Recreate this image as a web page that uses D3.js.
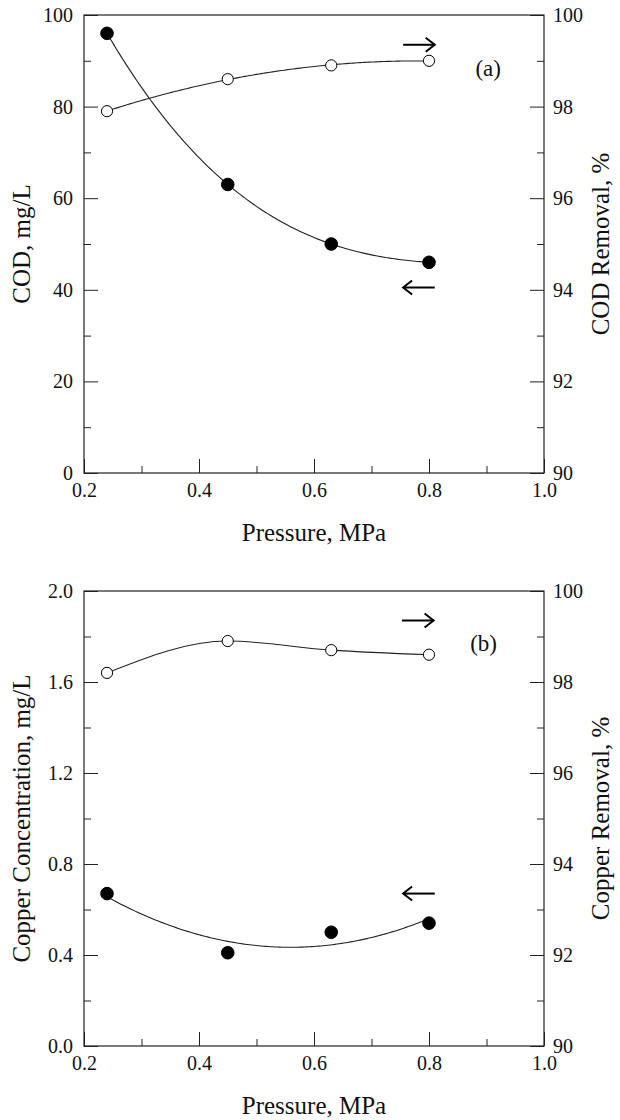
<!DOCTYPE html>
<html>
<head>
<meta charset="utf-8">
<script src="https://cdn.jsdelivr.net/npm/d3@7"></script>
<style>
  body { margin: 0; background: #fff; }
  svg text { font-family: "Liberation Serif", "Times New Roman", serif; fill: #111; }
</style>
</head>
<body>
<div id="chart"></div>
<script>
////////////////////////////////////////
// data
////////////////////////////////////////

var pressure = [0.24, 0.45, 0.63, 0.80];          // MPa
var codConc = [96, 63, 50, 46];                   // mg/L, filled circles
var codRemoval = [97.9, 98.6, 98.9, 99.0];        // %, open circles
var copperConc = [0.67, 0.41, 0.50, 0.54];        // mg/L, filled circles
var copperRemoval = [98.2, 98.9, 98.7, 98.6];     // %, open circles

var xTicks = [0.2, 0.4, 0.6, 0.8, 1.0];
var xMinor = [0.3, 0.5, 0.7, 0.9];
var codTicks = [0, 20, 40, 60, 80, 100];
var codMinor = [10, 30, 50, 70, 90];
var copperTicks = [0.0, 0.4, 0.8, 1.2, 1.6, 2.0];
var copperMinor = [0.2, 0.6, 1.0, 1.4, 1.8];
var removalTicks = [90, 92, 94, 96, 98, 100];
var removalMinor = [91, 93, 95, 97, 99];

// arrow annotations (data units of the left axis) and panel letters
var arrowsA = [{x0: 0.755, x1: 0.81, y: 93.5, dir: "right"},
               {x0: 0.755, x1: 0.81, y: 40.5, dir: "left"}];
var arrowsB = [{x0: 0.753, x1: 0.808, y: 1.87, dir: "right"},
               {x0: 0.755, x1: 0.81, y: 0.67, dir: "left"}];

////////////////////////////////////////

var W = 620, H = 1120;
var svg = d3.select("#chart").append("svg")
    .attr("width", W)
    .attr("height", H);

// least squares polynomial, solved with plain gauss elimination
function polyfit(xs, ys, deg) {
    var n = deg + 1;
    var A = [], b = [];
    for (var i = 0; i < n; i++) {
        A.push([]);
        for (var j = 0; j < n; j++) {
            A[i].push(d3.sum(xs, function(x) { return Math.pow(x, i + j); }));
        }
        b.push(d3.sum(xs, function(x, k) { return ys[k] * Math.pow(x, i); }));
    }
    for (var c = 0; c < n; c++) {
        var p = c;
        for (var r = c + 1; r < n; r++) if (Math.abs(A[r][c]) > Math.abs(A[p][c])) p = r;
        var t = A[c]; A[c] = A[p]; A[p] = t;
        var tb = b[c]; b[c] = b[p]; b[p] = tb;
        for (var r2 = c + 1; r2 < n; r2++) {
            var f = A[r2][c] / A[c][c];
            for (var k = c; k < n; k++) A[r2][k] -= f * A[c][k];
            b[r2] -= f * b[c];
        }
    }
    var coef = new Array(n).fill(0);
    for (var r3 = n - 1; r3 >= 0; r3--) {
        var s = b[r3];
        for (var k2 = r3 + 1; k2 < n; k2++) s -= A[r3][k2] * coef[k2];
        coef[r3] = s / A[r3][r3];
    }
    return function(x) {
        return d3.sum(coef, function(cf, i) { return cf * Math.pow(x, i); });
    };
}

////////////////////////////////////////

function drawPanel(opt) {
    var g = svg.append("g");
    var x = d3.scaleLinear().domain([0.2, 1.0]).range([opt.left, opt.right]);
    var yL = d3.scaleLinear().domain(opt.leftDomain).range([opt.bottom, opt.top]);
    var yR = d3.scaleLinear().domain([90, 100]).range([opt.bottom, opt.top]);

    // minor ticks first, no labels
    g.append("g").attr("transform", "translate(0," + opt.bottom + ")")
        .call(d3.axisBottom(x).tickValues(xMinor).tickSize(-7).tickSizeOuter(0).tickFormat(""));
    g.append("g").attr("transform", "translate(" + opt.left + ",0)")
        .call(d3.axisLeft(yL).tickValues(opt.leftMinor).tickSize(-7).tickSizeOuter(0).tickFormat(""));
    g.append("g").attr("transform", "translate(" + opt.right + ",0)")
        .call(d3.axisRight(yR).tickValues(removalMinor).tickSize(-7).tickSizeOuter(0).tickFormat(""));

    // major ticks with labels
    g.append("g").attr("transform", "translate(0," + opt.bottom + ")")
        .call(d3.axisBottom(x).tickValues(xTicks).tickSize(-14).tickSizeOuter(0)
            .tickPadding(10).tickFormat(d3.format(".1f")));
    g.append("g").attr("transform", "translate(" + opt.left + ",0)")
        .call(d3.axisLeft(yL).tickValues(opt.leftTicks).tickSize(-14).tickSizeOuter(0)
            .tickPadding(11).tickFormat(opt.leftFormat));
    g.append("g").attr("transform", "translate(" + opt.right + ",0)")
        .call(d3.axisRight(yR).tickValues(removalTicks).tickSize(-14).tickSizeOuter(0)
            .tickPadding(9).tickFormat(d3.format("d")));

    g.selectAll(".tick line").attr("stroke", "#222").attr("stroke-width", 1);
    g.selectAll(".domain").remove();
    g.selectAll(".tick text").style("font-size", "20px")
        .style("font-family", "Liberation Serif").attr("fill", "#111");

    // frame
    g.append("rect")
        .attr("x", opt.left).attr("y", opt.top)
        .attr("width", opt.right - opt.left).attr("height", opt.bottom - opt.top)
        .attr("fill", "none").attr("stroke", "#222").attr("stroke-width", 1.2);

    // curves
    var samples = d3.range(0.24, 0.8001, 0.004);
    opt.curves.forEach(function(cv) {
        var ys = cv.axis === "left" ? yL : yR;
        var line = d3.line().x(function(d) { return x(d[0]); }).y(function(d) { return ys(d[1]); });
        var pts;
        if (cv.fit === "poly") {
            var fn = polyfit(pressure, cv.values, cv.deg);
            pts = samples.map(function(p) { return [p, fn(p)]; });
        } else {
            line.curve(d3.curveMonotoneX);
            pts = pressure.map(function(p, i) { return [p, cv.values[i]]; });
        }
        g.append("path").datum(pts)
            .attr("d", line)
            .attr("fill", "none").attr("stroke", "#222").attr("stroke-width", 1.1);
    });

    // markers
    opt.curves.forEach(function(cv) {
        var ys = cv.axis === "left" ? yL : yR;
        g.selectAll(null).data(cv.values).enter().append("circle")
            .attr("cx", function(d, i) { return x(pressure[i]); })
            .attr("cy", function(d) { return ys(d); })
            .attr("r", cv.filled ? 6.3 : 5.6)
            .attr("fill", cv.filled ? "#000" : "#fff")
            .attr("stroke", "#000").attr("stroke-width", 1);
    });

    // arrows
    opt.arrows.forEach(function(a) {
        var yy = yL(a.y);
        var xa = x(a.x0), xb = x(a.x1);
        var tip = a.dir === "right" ? xb : xa;
        var back = a.dir === "right" ? -9 : 9;
        g.append("line").attr("x1", xa).attr("x2", xb).attr("y1", yy).attr("y2", yy)
            .attr("stroke", "#000").attr("stroke-width", 2);
        g.append("path")
            .attr("d", "M" + (tip + back) + "," + (yy - 7) + "L" + tip + "," + yy + "L" + (tip + back) + "," + (yy + 7))
            .attr("fill", "none").attr("stroke", "#000").attr("stroke-width", 2);
    });

    // panel letter
    g.append("text")
        .attr("x", x(opt.letterX)).attr("y", yL(opt.letterY))
        .attr("text-anchor", "middle").attr("dominant-baseline", "middle")
        .style("font-size", "23px")
        .text(opt.letter);

    // axis titles
    var midY = (opt.top + opt.bottom) / 2;
    g.append("text")
        .attr("transform", "translate(" + ((opt.left + opt.right) / 2) + "," + (opt.bottom + 68) + ")")
        .attr("text-anchor", "middle")
        .style("font-size", "25px")
        .text("Pressure, MPa");
    g.append("text")
        .attr("transform", "translate(30," + midY + ") rotate(-90)")
        .attr("text-anchor", "middle")
        .style("font-size", "25px")
        .text(opt.leftTitle);
    g.append("text")
        .attr("transform", "translate(609," + midY + ") rotate(-90)")
        .attr("text-anchor", "middle")
        .style("font-size", "25px")
        .text(opt.rightTitle);
}

////////////////////////////////////////

drawPanel({
    left: 84, right: 544, top: 15, bottom: 473,
    leftDomain: [0, 100], leftTicks: codTicks, leftMinor: codMinor,
    leftFormat: d3.format("d"),
    leftTitle: "COD, mg/L", rightTitle: "COD Removal, %",
    curves: [
        {values: codConc, axis: "left", filled: true, fit: "poly", deg: 3},
        {values: codRemoval, axis: "right", filled: false, fit: "poly", deg: 2}
    ],
    arrows: arrowsA,
    letter: "(a)", letterX: 0.903, letterY: 87.8
});

drawPanel({
    left: 84, right: 544, top: 591, bottom: 1046,
    leftDomain: [0, 2], leftTicks: copperTicks, leftMinor: copperMinor,
    leftFormat: d3.format(".1f"),
    leftTitle: "Copper Concentration, mg/L", rightTitle: "Copper Removal, %",
    curves: [
        {values: copperConc, axis: "left", filled: true, fit: "poly", deg: 2},
        {values: copperRemoval, axis: "right", filled: false, fit: "spline"}
    ],
    arrows: arrowsB,
    letter: "(b)", letterX: 0.895, letterY: 1.76
});
</script>
</body>
</html>
